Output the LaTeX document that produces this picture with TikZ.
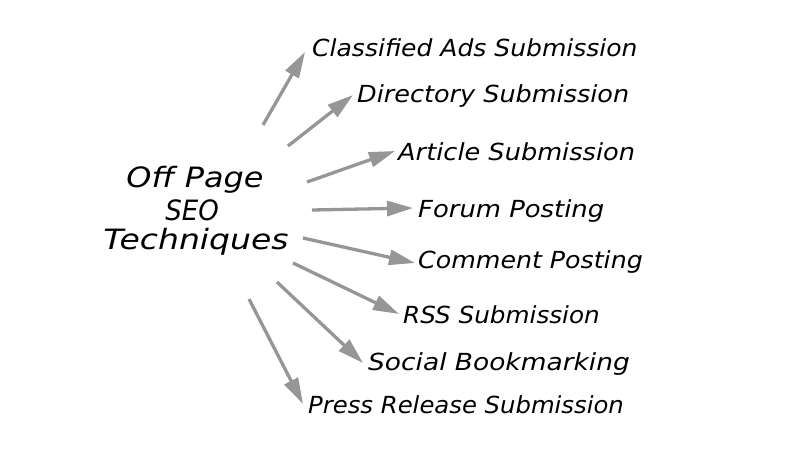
\documentclass[tikz,border=0pt]{standalone}
\usepackage{fontspec}
\setmainfont{DejaVu Sans}
\usepackage{graphicx}
\usetikzlibrary{arrows.meta,calc}
\newcommand\hstretch[2]{\scalebox{#1}[1]{#2}}
\begin{document}
\begin{tikzpicture}[x=1pt,y=-1pt,
  lab/.style={anchor=base west,inner sep=0pt,font=\fontsize{23.5}{27}\selectfont\itshape},
  hub/.style={anchor=base,inner sep=0pt,font=\fontsize{28}{32}\selectfont\itshape},
  arr/.style={draw={rgb,255:red,150;green,150;blue,150},line width=3.3pt,
    -{Triangle[length=26pt,width=15pt]}}]
\useasboundingbox[fill=white] (0,0) rectangle (787,448);
% hub
\node[hub] (h1) at (195,187) {\hstretch{1.14}{Off Page}};
\node[hub] (h2) at (192,220) {\hstretch{0.93}{SEO}};
\node[hub] (h3) at (196,249) {\hstretch{1.18}{Techniques}};
% labels
\node[lab] (l1) at (312,56) {\hstretch{1.065}{Classified Ads Submission}};
\node[lab] (l2) at (357,102) {\hstretch{1.085}{Directory Submission}};
\node[lab] (l3) at (398,160) {\hstretch{1.09}{Article Submission}};
\node[lab] (l4) at (418,217) {\hstretch{1.10}{Forum Posting}};
\node[lab] (l5) at (418,268) {\hstretch{1.075}{Comment Posting}};
\node[lab] (l6) at (403,323) {\hstretch{1.05}{RSS Submission}};
\node[lab] (l7) at (368,370) {\hstretch{1.125}{Social Bookmarking}};
\node[lab] (l8) at (308,413) {\hstretch{1.035}{Press Release Submission}};
% start points
\coordinate (s1) at (263,125);
\coordinate (s2) at (288,146);
\coordinate (s3) at (307,182);
\coordinate (s4) at (312,210);
\coordinate (s5) at (303,238);
\coordinate (s6) at (293,263);
\coordinate (s7) at (277,282);
\coordinate (s8) at (249,299);
% arrows
\draw[arr] (s1) -- ($(l1.base west)+(-7,-4)$);
\draw[arr] (s2) -- ($(l2.base west)+(-4,-7)$);
\draw[arr] (s3) -- ($(l3.base west)+(-3,-9)$);
\draw[arr] (s4) -- ($(l4.base west)+(-5,-9)$);
\draw[arr] (s5) -- ($(l5.base west)+(-3,-5)$);
\draw[arr] (s6) -- ($(l6.base west)+(-4,-9)$);
\draw[arr] (s7) -- ($(l7.base west)+(-5,-7)$);
\draw[arr] (s8) -- ($(l8.base west)+(-5,-9)$);
\end{tikzpicture}
\end{document}
